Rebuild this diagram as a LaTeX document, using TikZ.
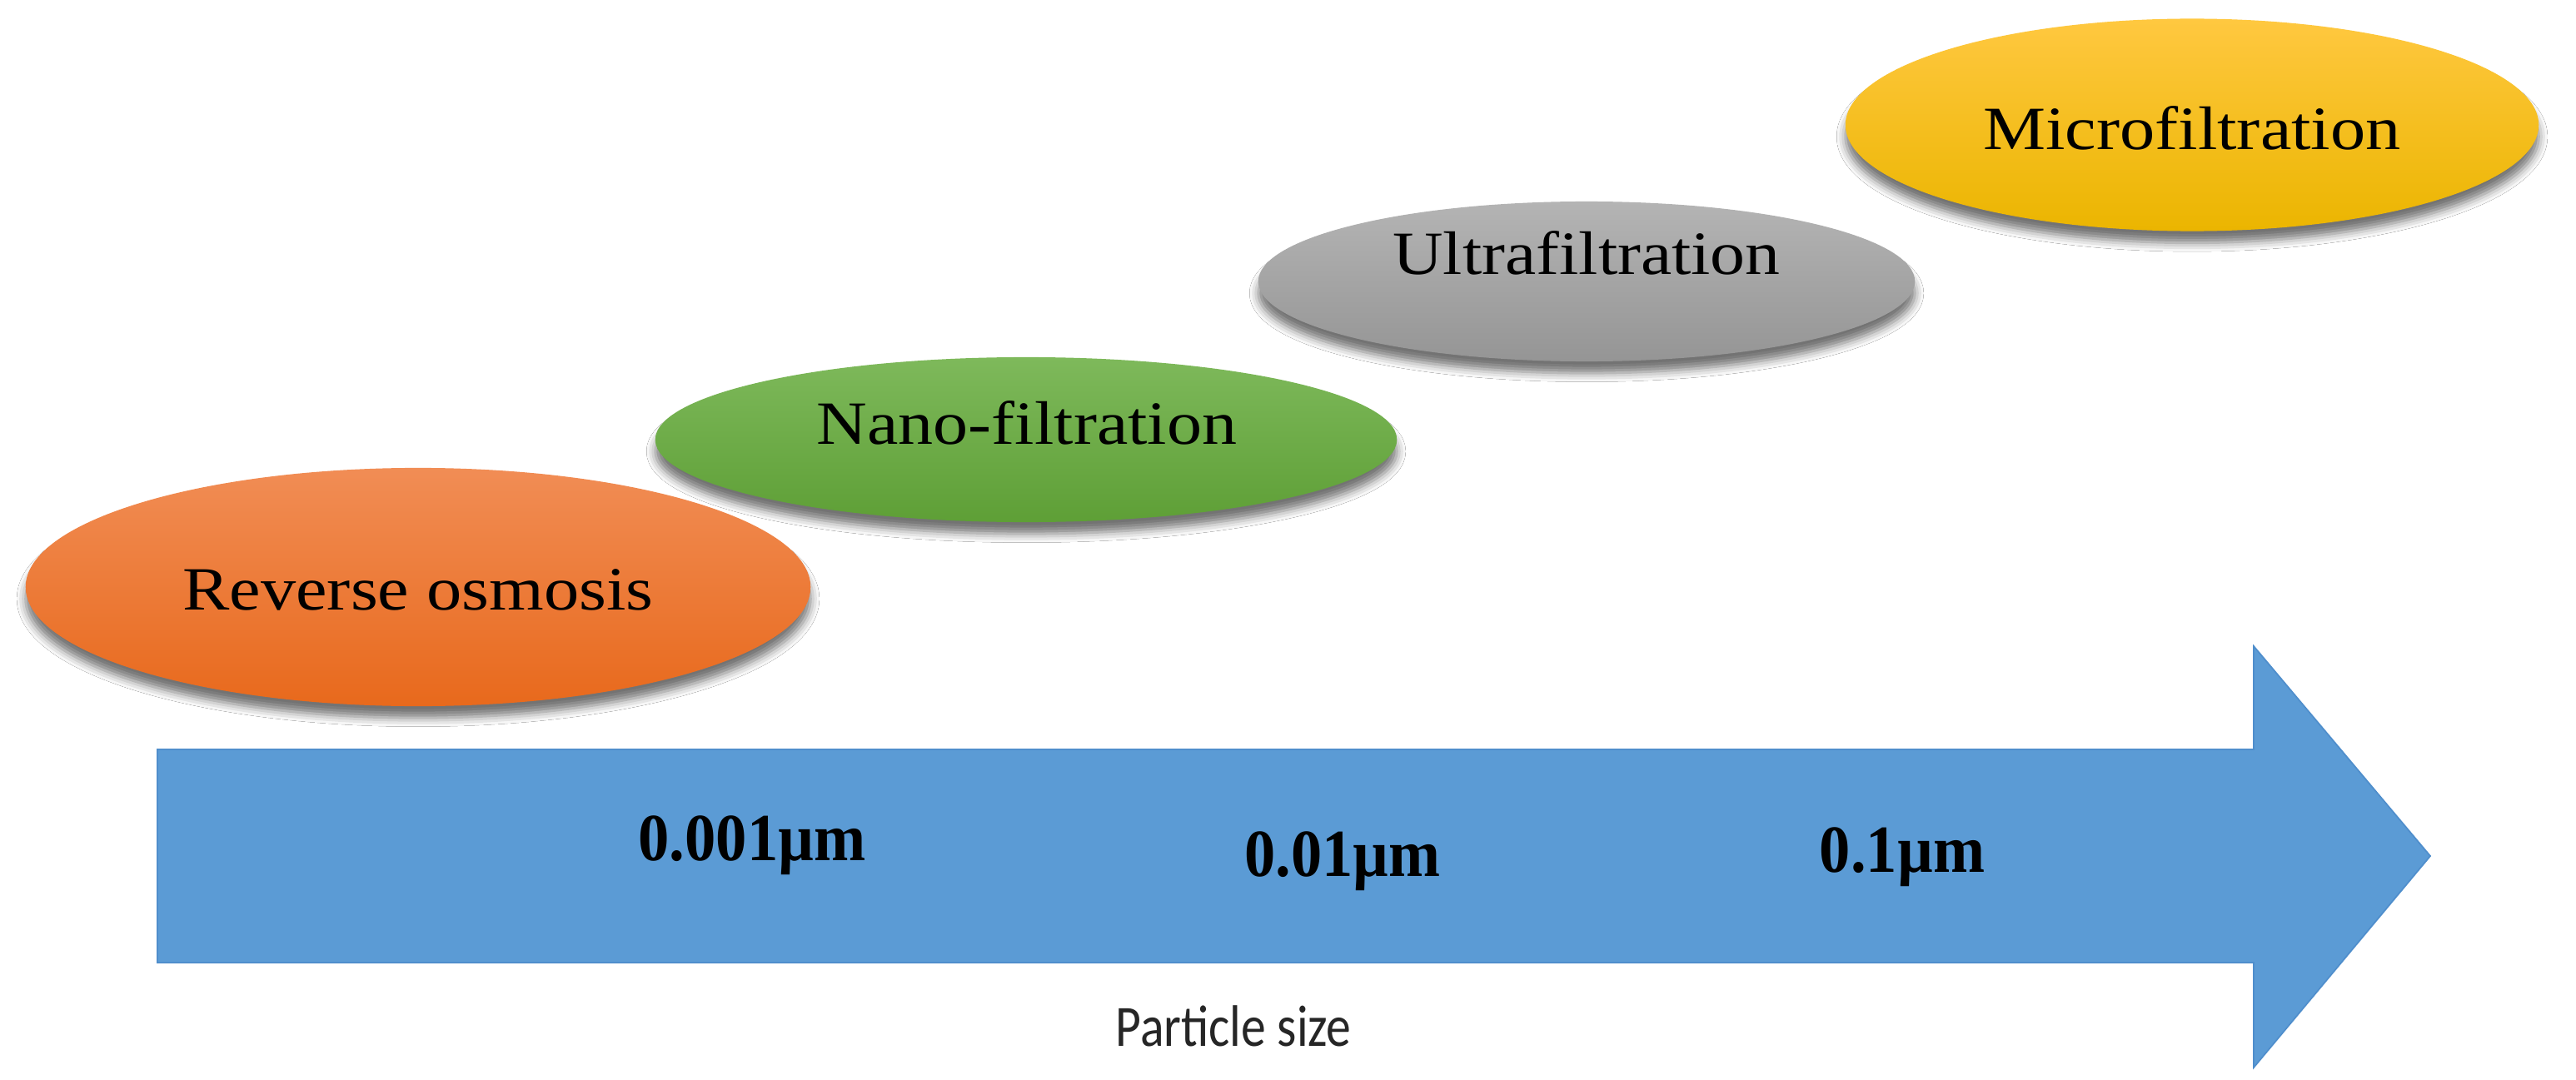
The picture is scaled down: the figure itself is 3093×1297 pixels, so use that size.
\documentclass[tikz,border=0pt]{standalone}
\usepackage{fontspec}
\setmainfont{Liberation Serif}
\newfontfamily\capfont{Carlito}
\usepackage{graphicx}
\usetikzlibrary{shapes.geometric,shadows.blur}
\definecolor{arrowblue}{HTML}{5B9BD5}
\definecolor{arrowedge}{HTML}{4F8ECC}
\definecolor{roTop}{HTML}{F18D55}
\definecolor{roBot}{HTML}{E8691C}
\definecolor{nfTop}{HTML}{7EB95B}
\definecolor{nfBot}{HTML}{5E9F36}
\definecolor{ufTop}{HTML}{B4B4B4}
\definecolor{ufBot}{HTML}{959595}
\definecolor{mfTop}{HTML}{FFC840}
\definecolor{mfBot}{HTML}{EBB500}
\newcommand\wfit[2]{\resizebox{#1}{\height}{#2}}
\tikzset{
  blob/.style={ellipse, inner sep=0pt, draw=none,
    blur shadow={shadow xshift=0pt, shadow yshift=-4pt, shadow blur radius=3pt, shadow opacity=55}},
  elab/.style={anchor=base, inner sep=0pt, text=black, font=\fontsize{21}{25}\selectfont},
  vlab/.style={anchor=base, inner sep=0pt, text=black, font=\fontsize{23}{28}\selectfont\bfseries},
  plab/.style={anchor=base, inner sep=0pt, text=black!85, font=\capfont\fontsize{20}{24}\selectfont},
}
\begin{document}
\begin{tikzpicture}[x=0.01cm,y=-0.01cm]
\fill[white] (0,0) rectangle (3093,1297);
\useasboundingbox (0,0) rectangle (3093,1297);

% big arrow
\filldraw[fill=arrowblue, draw=arrowedge, line width=0.5pt, line join=miter]
  (189,900) -- (2706,900) -- (2706,776) -- (2918,1028) -- (2706,1282)
  -- (2706,1156) -- (189,1156) -- cycle;

% ellipses
\node[blob, minimum width=9.42cm, minimum height=2.86cm, top color=roTop, bottom color=roBot] (ro) at (502,705) {};
\node[blob, minimum width=8.90cm, minimum height=1.98cm, top color=nfTop, bottom color=nfBot] (nf) at (1232,528) {};
\node[blob, minimum width=7.88cm, minimum height=1.92cm, top color=ufTop, bottom color=ufBot] (uf) at (1905,338) {};
\node[blob, minimum width=8.32cm, minimum height=2.55cm, top color=mfTop, bottom color=mfBot] (mf) at (2632,150) {};

% ellipse labels
\node[elab] (roT) at (502,732) {\wfit{5.65cm}{Reverse osmosis}};
\node[elab] (nfT) at (1233,533) {\wfit{5.04cm}{Nano-filtration}};
\node[elab] (ufT) at (1905,330) {\wfit{4.65cm}{Ultrafiltration}};
\node[elab] (mfT) at (2632,180) {\wfit{5.01cm}{Microfiltration}};

% size labels
\node[vlab] (s1) at (903,1033) {\wfit{2.73cm}{0.001µm}};
\node[vlab] (s2) at (1612,1052) {\wfit{2.35cm}{0.01µm}};
\node[vlab] (s3) at (2284,1047) {\wfit{1.98cm}{0.1µm}};

\node[plab] (ps) at (1481,1256) {\wfit{2.83cm}{Particle size}};
\end{tikzpicture}
\end{document}
